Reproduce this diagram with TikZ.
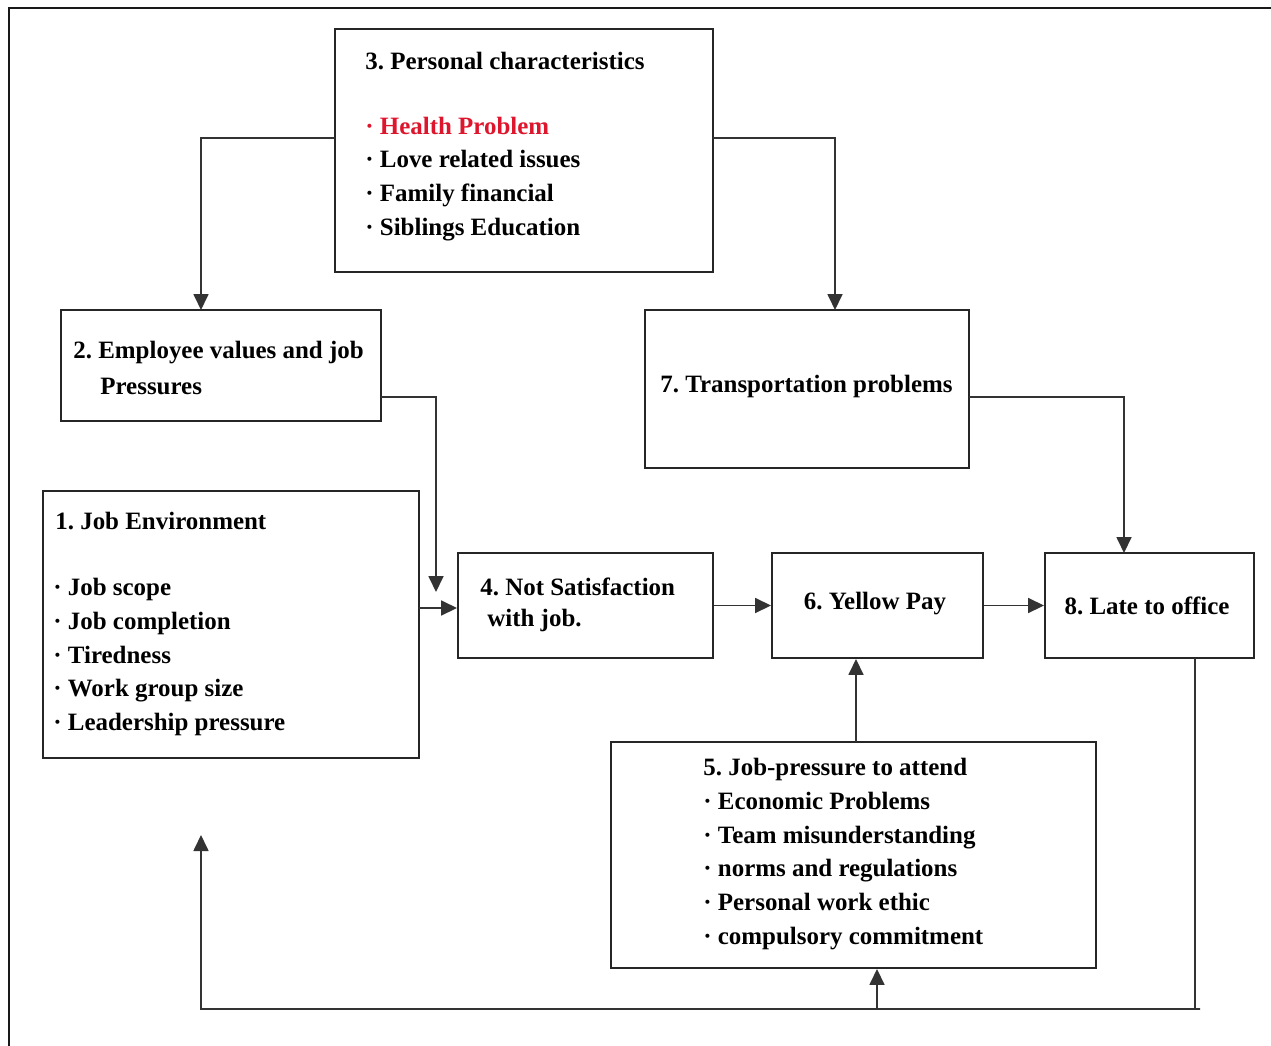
\documentclass[tikz,border=0pt]{standalone}
\usepackage{fontspec}
\setmainfont{Liberation Serif}
\usetikzlibrary{arrows.meta,fit}
\definecolor{hred}{RGB}{222,22,45}
\begin{document}
\frenchspacing
\begin{tikzpicture}[x=0.02cm,y=-0.02cm,
  box/.style={draw=black!85,line width=1.1pt,inner sep=0pt},
  txt/.style={inner sep=0pt,anchor=west,align=left,font=\fontsize{14.2}{19.3}\selectfont\bfseries},
  ctxt/.style={txt,anchor=center},
  conn/.style={draw=black!80,line width=1pt},
  arr/.style={conn,-{Triangle[length=0.32cm,width=0.3cm]}}]
\useasboundingbox (0,0) rectangle (1271,1045);
\draw[line width=1.2pt,draw=black!90] (9,8) rectangle (1300,1080);

% boxes
\node[box,fit={(335,29)(713,272)}] (b3) {};
\node[box,fit={(61,310)(381,421)}] (b2) {};
\node[box,fit={(645,310)(969,468)}] (b7) {};
\node[box,fit={(43,491)(419,758)}] (b1) {};
\node[box,fit={(458,553)(713,658)}] (b4) {};
\node[box,fit={(772,553)(983,658)}] (b6) {};
\node[box,fit={(1045,553)(1254,658)}] (b8) {};
\node[box,fit={(611,742)(1096,968)}] (b5) {};

% texts
\node[txt] (t3) at (365,61) {3. Personal characteristics};
\node[txt] (t3i) at (365,179) {\textcolor{hred}{· Health Problem}\\· Love related issues\\· Family financial\\· Siblings Education};
\node[txt] (t2a) at (73,353) {2. Employee values and job};
\node[txt] (t2b) at (100,386) {Pressures};
\node[txt] (t7) at (660,386) {7. Transportation problems};
\node[txt] (t1) at (55,521) {1. Job Environment};
\node[txt] (t1i) at (53,657) {· Job scope\\· Job completion\\· Tiredness\\· Work group size\\· Leadership pressure};
\node[txt] (t4a) at (480,587) {4. Not Satisfaction};
\node[txt] (t4b) at (487,620) {with job.};
\node[ctxt] (t6) at (875,604) {6. Yellow Pay};
\node[ctxt] (t8) at (1147,606) {8. Late to office};
\node[txt] (t5) at (703,854) {5. Job-pressure to attend\\· Economic Problems\\· Team misunderstanding\\· norms and regulations\\· Personal work ethic\\· compulsory commitment};

% helper coordinates on box borders
\coordinate (b3l) at (335,138);
\coordinate (b3r) at (713,138);
\coordinate (b2in) at (201,310);
\coordinate (b7in) at (835,310);
\coordinate (b2out) at (381,397);
\coordinate (b2end) at (436,592);
\coordinate (b1out) at (419,608);
\coordinate (b7out) at (969,397);
\coordinate (b8in) at (1124,553);
\coordinate (b5top) at (856,742);
\coordinate (b8out) at (1195,658);
\coordinate (fbR) at (1195,1009);
\coordinate (fbL) at (201,1009);
\coordinate (fbEnd) at (201,835);
\coordinate (fbM) at (877,1009);

% connectors
\draw[arr] (b3l) -| (b2in);
\draw[arr] (b3r) -| (b7in);
\draw[arr] (b2out) -| (b2end);
\draw[arr] (b1out) -- (b1out -| b4.west);
\draw[arr] (b4.east) -- (b6.west);
\draw[arr] (b6.east) -- (b8.west);
\draw[arr] (b7out) -| (b8in);
\draw[arr] (b5top) -- (b5top |- b6.south);
\draw[arr] (b8out) -- (fbR) -- ([xshift=0.1cm]fbR) -- (fbL) -- (fbEnd);
\draw[arr] (fbM) -- (fbM |- b5.south);
\end{tikzpicture}
\end{document}
